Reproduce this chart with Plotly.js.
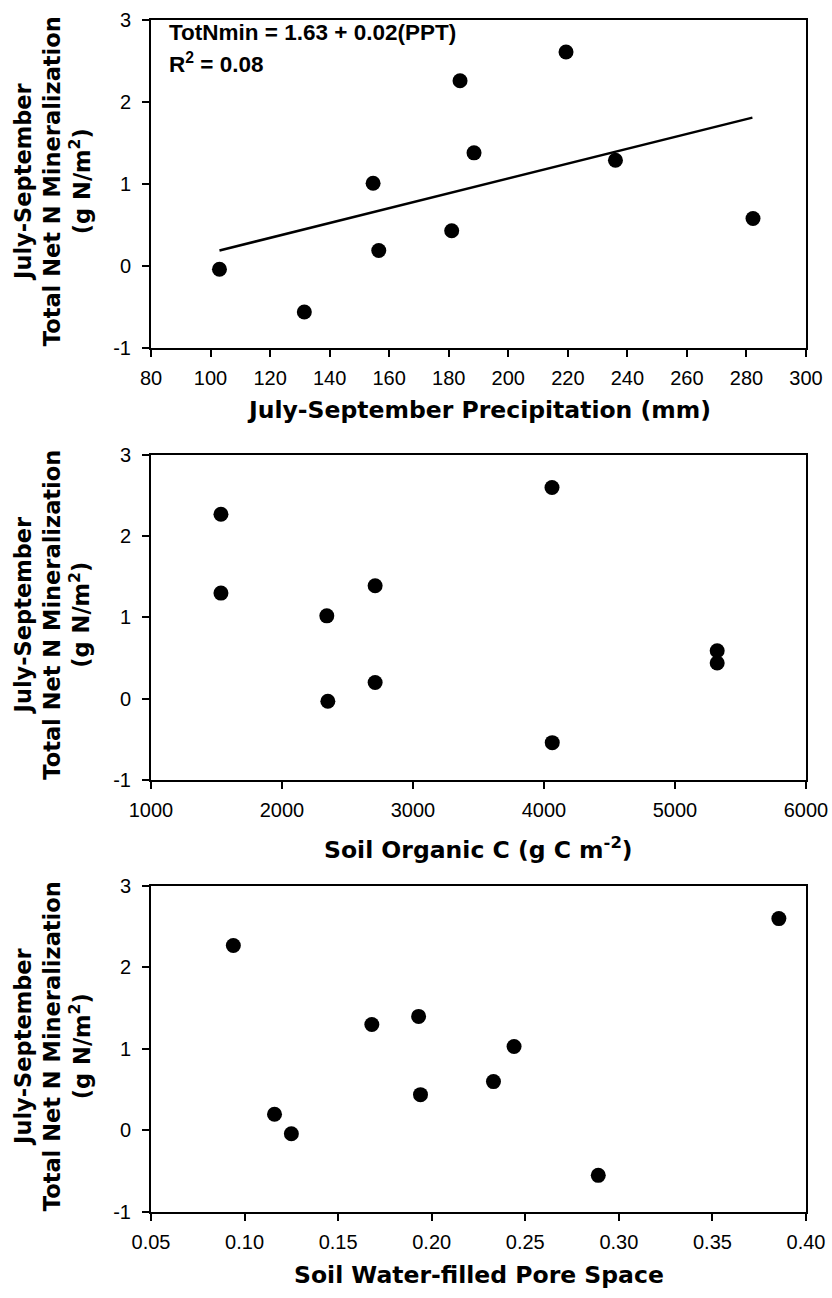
<!DOCTYPE html>
<html>
<head>
<meta charset="utf-8">
<script src="https://cdn.plot.ly/plotly-3.0.1.min.js"></script>
<style>
  html, body { margin: 0; padding: 0; background: #fff; }
  #chart { width: 832px; height: 1298px; }
</style>
</head>
<body>
<div id="chart"></div>
<script>
// Panel 1: July-September precipitation (mm)
var pptX = [103, 131.5, 154.6, 156.5, 181, 183.8, 188.5, 219.4, 236, 282.2];
var pptY = [-0.04, -0.56, 1.01, 0.19, 0.43, 2.26, 1.38, 2.61, 1.29, 0.58];
// Regression line endpoints as drawn
var trendX = [103, 282];
var trendY = [0.19, 1.81];

// Panel 2: soil organic C (g C m-2)
var socX = [1534, 1534, 2342, 2350, 2711, 2711, 4061, 4063, 5322, 5322];
var socY = [2.27, 1.30, 1.02, -0.03, 1.39, 0.20, 2.60, -0.54, 0.59, 0.44];

// Panel 3: soil water-filled pore space
var wfpsX = [0.094, 0.116, 0.125, 0.168, 0.193, 0.194, 0.233, 0.244, 0.289, 0.3855];
var wfpsY = [2.27, 0.20, -0.04, 1.30, 1.40, 0.44, 0.60, 1.03, -0.55, 2.60];

// Tick labels
var yTickVals = [-1, 0, 1, 2, 3];
var yTickText = ['-1', '0', '1', '2', '3'];

// Texts
var yTitle = 'July-September<br>Total Net N Mineralization<br>(g N/m<sup>2</sup>)';
var xTitles = ['July-September Precipitation (mm)', 'Soil Organic C (g C m<sup>-2</sup>)', 'Soil Water-filled Pore Space'];
var eqLines = ['TotNmin = 1.63 + 0.02(PPT)', 'R<sup>2</sup> = 0.08'];

var FONT = 'Liberation Sans, Arial, Helvetica, sans-serif';
var TFONT = 'DejaVu Sans, Liberation Sans, Arial, sans-serif';

function pts(x, y, xa, ya) {
  return {
    x: x, y: y, xaxis: xa, yaxis: ya, type: 'scatter', mode: 'markers',
    marker: { color: '#000', size: 15, line: { width: 0 } },
    hoverinfo: 'skip', showlegend: false
  };
}

var data = [
  pts(pptX, pptY, 'x', 'y'),
  { x: trendX, y: trendY, xaxis: 'x', yaxis: 'y', type: 'scatter', mode: 'lines',
    line: { color: '#000', width: 2.5 }, hoverinfo: 'skip', showlegend: false },
  pts(socX, socY, 'x2', 'y2'),
  pts(wfpsX, wfpsY, 'x3', 'y3')
];

function xax(range, dtick, fmt, anchor) {
  return {
    range: range, dtick: dtick, tick0: range[0], tickformat: fmt,
    showgrid: false, zeroline: false, showline: true, linecolor: '#000', linewidth: 2,
    mirror: true, ticks: 'outside', ticklen: 7, tickwidth: 2, tickcolor: '#000',
    ticklabelstandoff: 4,
    tickfont: { family: FONT, size: 20, color: '#000' },
    anchor: anchor, domain: [0, 1]
  };
}
function yax(domain, anchor) {
  return {
    range: [-1, 3], tickmode: 'array', tickvals: yTickVals, ticktext: yTickText,
    showgrid: false, zeroline: false, showline: true, linecolor: '#000', linewidth: 2,
    mirror: true, ticks: 'outside', ticklen: 7, tickwidth: 2, tickcolor: '#000',
    ticklabelstandoff: 7,
    tickfont: { family: FONT, size: 20, color: '#000' },
    anchor: anchor, domain: domain
  };
}

var axisNames = [['x', 'y'], ['x2', 'y2'], ['x3', 'y3']];
var xTitleY = [-0.189, -0.212, -0.194];
var annotations = [];
for (var i = 0; i < 3; i++) {
  var xa = axisNames[i][0], ya = axisNames[i][1];
  annotations.push({
    text: xTitles[i], xref: xa + ' domain', yref: ya + ' domain', x: 0.5, y: xTitleY[i],
    xanchor: 'center', yanchor: 'middle', showarrow: false,
    font: { family: TFONT, size: 23.5, color: '#000', weight: 'bold' }
  });
  annotations.push({
    text: yTitle, xref: 'paper', yref: ya + ' domain', x: -0.151, y: 0.509,
    xanchor: 'center', yanchor: 'middle', textangle: -90, showarrow: false, align: 'center',
    font: { family: TFONT, size: 22.5, color: '#000', weight: 'bold' }
  });
}
annotations.push({
  text: eqLines[0], xref: 'x domain', yref: 'y domain', x: 0.024, y: 0.963,
  xanchor: 'left', yanchor: 'middle', align: 'left', showarrow: false,
  font: { family: FONT, size: 22.5, color: '#000', weight: 'bold' }
});
annotations.push({
  text: eqLines[1], xref: 'x domain', yref: 'y domain', x: 0.024, y: 0.868,
  xanchor: 'left', yanchor: 'middle', align: 'left', showarrow: false,
  font: { family: FONT, size: 22.5, color: '#000', weight: 'bold' }
});

var layout = {
  width: 832, height: 1298,
  margin: { l: 151, r: 26, t: 20, b: 86 },
  paper_bgcolor: '#fff', plot_bgcolor: '#fff',
  font: { family: FONT, color: '#000' },
  showlegend: false,
  xaxis: xax([80, 300], 20, 'd', 'y'),
  yaxis: yax([0.7248, 1], 'x'),
  xaxis2: xax([1000, 6000], 1000, 'd', 'y2'),
  yaxis2: yax([0.3624, 0.6351], 'x2'),
  xaxis3: xax([0.05, 0.40], 0.05, '.2f', 'y3'),
  yaxis3: yax([0, 0.2735], 'x3'),
  annotations: annotations
};

Plotly.newPlot('chart', data, layout, { displayModeBar: false, staticPlot: true });
</script>
</body>
</html>
